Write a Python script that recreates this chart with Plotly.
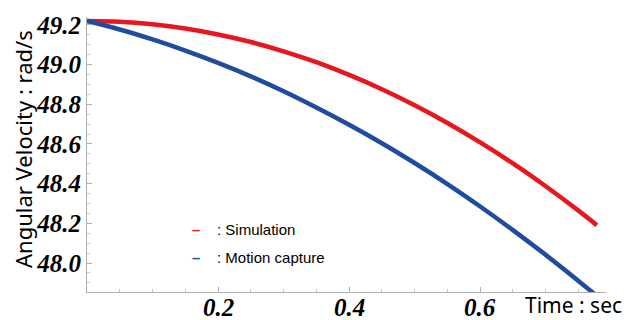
import plotly.graph_objects as go

time_s = [0.0, 0.05, 0.10, 0.15, 0.20, 0.25, 0.30, 0.35, 0.40, 0.45, 0.50,
          0.55, 0.60, 0.65, 0.70, 0.75, 0.778]
simulation = [49.220, 49.216, 49.203, 49.182, 49.152, 49.114, 49.067, 49.012,
              48.948, 48.876, 48.795, 48.706, 48.608, 48.502, 48.387, 48.264, 48.191]
motion_capture = [49.220, 49.177, 49.127, 49.071, 49.009, 48.941, 48.866, 48.784,
                  48.697, 48.604, 48.504, 48.398, 48.285, 48.166, 48.041, 47.910, 47.834]

x_ticks = [0.2, 0.4, 0.6]
y_ticks = [48.0, 48.2, 48.4, 48.6, 48.8, 49.0, 49.2]

RED = "#e8161e"
BLUE = "#1f4ba0"

fig = go.Figure()
fig.add_trace(go.Scatter(x=time_s, y=simulation, mode="lines", name="Simulation",
                         line=dict(color=RED, width=4.5, shape="spline")))
fig.add_trace(go.Scatter(x=time_s, y=motion_capture, mode="lines", name="Motion capture",
                         line=dict(color=BLUE, width=4.5, shape="spline")))

tickfont = dict(family="Liberation Serif", size=25, color="black", weight="bold", style="italic")
fig.update_layout(
    width=636, height=320,
    margin=dict(l=79, r=38, t=9, b=36),
    paper_bgcolor="white", plot_bgcolor="white",
    showlegend=False,
    xaxis=dict(range=[0, 0.792], tickvals=x_ticks, showticklabels=False,
               showgrid=False, zeroline=False, showline=True, linecolor="#b0b0b0", linewidth=1,
               ticks="inside", ticklen=5, tickcolor="#b0b0b0", automargin=False,
               minor=dict(dtick=0.05, ticks="inside", ticklen=3, tickcolor="#c8c8c8"),
               fixedrange=True),
    yaxis=dict(range=[47.854, 49.24], tickvals=y_ticks, ticktext=["%.1f" % v for v in y_ticks],
               showgrid=False, zeroline=False, showline=True, linecolor="#b0b0b0", linewidth=1,
               ticks="inside", ticklen=5, tickcolor="#b0b0b0", tickfont=tickfont,
               ticklabelstandoff=0, automargin=False,
               minor=dict(dtick=0.05, ticks="inside", ticklen=3, tickcolor="#c8c8c8"),
               fixedrange=True),
)

# x tick labels placed at data positions, tucked close under the axis
for v in x_ticks:
    fig.add_annotation(text="%.1f" % v, xref="x", x=v, yref="paper", y=0,
                       xanchor="center", yanchor="middle", yshift=-15, showarrow=False,
                       font=tickfont)

# y axis title
fig.add_annotation(text="Angular Velocity : rad/s", xref="paper", yref="paper",
                   x=(15 - 79) / 519, y=0.52, xanchor="center", yanchor="middle",
                   textangle=-90, showarrow=False,
                   font=dict(family="Noto Sans", size=22, color="black"))
fig.add_annotation(text="Time : sec", xref="paper", yref="paper",
                   x=(616 - 79) / 519, y=0.0, yanchor="middle", xanchor="right", yshift=-13,
                   showarrow=False,
                   font=dict(family="Noto Sans", size=21, color="black"))
fig.add_annotation(text='<span style="color:%s"><b>–</b></span>    : Simulation' % RED,
                   xref="paper", yref="paper", x=(182 - 79) / 519, y=(284 - 232) / 275,
                   xanchor="left", showarrow=False,
                   font=dict(family="Liberation Sans", size=15, color="black"))
fig.add_annotation(text='<span style="color:%s"><b>–</b></span>    : Motion capture' % BLUE,
                   xref="paper", yref="paper", x=(182 - 79) / 519, y=(284 - 260) / 275,
                   xanchor="left", showarrow=False,
                   font=dict(family="Liberation Sans", size=15, color="black"))

fig.write_html("out.html")
